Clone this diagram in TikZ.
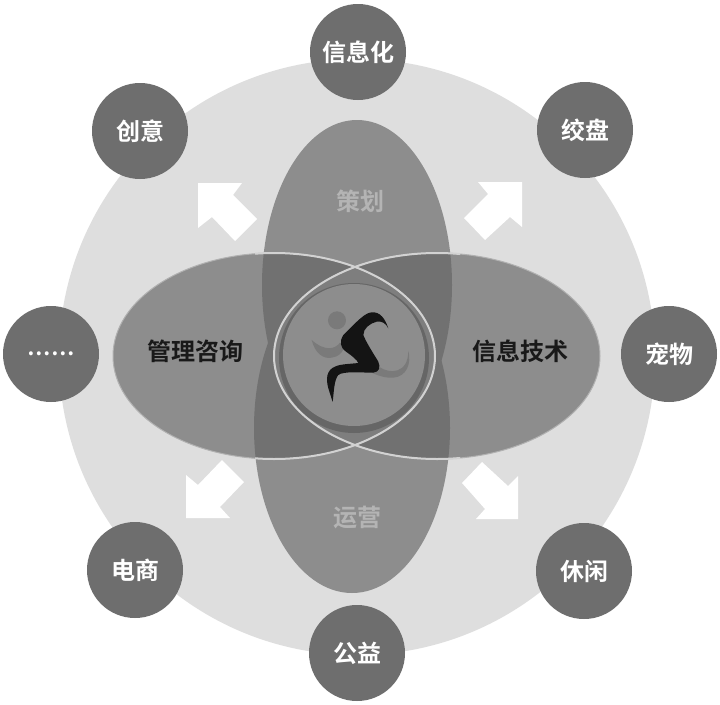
\documentclass[tikz,border=0pt]{standalone}
\usepackage{fontspec}
\setmainfont{Noto Sans CJK SC}[BoldFont={Noto Sans CJK SC Bold}]
\definecolor{bigc}{HTML}{DEDEDE}
\definecolor{satc}{HTML}{6E6E6E}
\definecolor{petal}{HTML}{8D8D8D}
\definecolor{overlapc}{HTML}{717171}
\definecolor{lensc}{HTML}{7E7E7E}
\definecolor{edgec}{HTML}{D2D2D2}
\definecolor{softtxt}{HTML}{B4B4B4}
\definecolor{crescent}{HTML}{7A7A7A}
\tikzset{
  sat/.style={circle,fill=satc,minimum size=96pt,inner sep=0pt,text=white,font=\fontsize{24}{24}\selectfont\bfseries},
  softlabel/.style={text=softtxt,inner sep=0pt,font=\fontsize{24}{24}\selectfont\bfseries},
  darklabel/.style={text=black!90,inner sep=0pt,font=\fontsize{24}{24}\selectfont\bfseries},
  arrowshape/.style={fill=white,draw=none},
  EH/.style={line width=2pt,draw=edgec},
  EHfaint/.style={line width=1pt,draw=petal!55!bigc}
}
\def\ET{(357,285) ellipse [x radius=95,y radius=165]}
\def\EB{(352,428) ellipse [x radius=98,y radius=165]}
\def\EL{(274,356) ellipse [x radius=161,y radius=103]}
\def\ER{(437,356) ellipse [x radius=163,y radius=103]}
\begin{document}
\begin{tikzpicture}[x=1pt,y=-1pt]
\useasboundingbox (0,0) rectangle (720,704);
\fill[white] (0,0) rectangle (720,704);
\fill[bigc] (357,357) circle [radius=298];
% petals
\fill[petal] \ET; \fill[petal] \EB; \fill[petal] \EL; \fill[petal] \ER;
% overlaps
\begin{scope}\clip \ET; \fill[overlapc] \EL; \fill[overlapc] \ER; \end{scope}
\begin{scope}\clip \EB; \fill[overlapc] \EL; \fill[overlapc] \ER; \end{scope}
\begin{scope}\clip \EL; \fill[lensc] \ER; \end{scope}
% centre disc
\fill[black!60] (354,358) circle [radius=75];
\fill[petal] (354,355) circle [radius=71];
% horizontal ellipse outlines: faint at the outer ends, bright over the vertical petals
\draw[EHfaint] \EL; \draw[EHfaint] \ER;
\begin{scope}\clip (255,240) rectangle (460,470); \draw[EH] \EL; \draw[EH] \ER; \end{scope}
% white arrows
\fill[arrowshape] (198,183)--(242,183)--(233,195)--(257,219)--(235,241)--(212,217)--(198,228)--cycle;
\fill[arrowshape] (522,182)--(478,182)--(488,194)--(464,218)--(485,240)--(510,217)--(522,227)--cycle;
\fill[arrowshape] (186,518)--(186,475)--(198,485)--(222,460)--(244,482)--(220,507)--(230,518)--cycle;
\fill[arrowshape] (518,519)--(476,519)--(485,509)--(462,483)--(482,462)--(508,486)--(518,476)--cycle;
% runner
\begin{scope}[shift={(260,260)},x=0.3333pt,y=-0.3333pt]
\fill[crescent] (231,181) circle [radius=27];
\fill[crescent] (155,240) .. controls (165,280) and (190,298) .. (215,293) .. controls (235,290) and (245,280) .. (250,268) -- (240,248) .. controls (225,268) and (195,275) .. (155,240) -- cycle;
\fill[crescent] (445,272) .. controls (455,310) and (440,350) .. (400,353) .. controls (375,355) and (350,345) .. (335,338) -- (360,322) .. controls (385,340) and (445,345) .. (445,272) -- cycle;
\fill[black!92] (385,205) .. controls (375,175) and (360,155) .. (335,157) .. controls (315,158) and (290,185) .. (250,225)
 .. controls (238,245) and (240,262) .. (258,275) .. controls (275,287) and (290,298) .. (295,309)
 .. controls (270,312) and (240,312) .. (225,320) .. controls (200,330) and (197,355) .. (205,385) -- (218,426)
 .. controls (222,395) and (222,360) .. (235,345) .. controls (250,333) and (300,338) .. (340,338)
 .. controls (358,336) and (362,322) .. (355,305) .. controls (340,280) and (320,250) .. (310,225)
 .. controls (310,205) and (330,190) .. (350,185) .. controls (365,182) and (378,190) .. (385,205) -- cycle;
\end{scope}
% satellites
\node[sat] (xinxihua) at (358,52) {信息化};
\node[sat] (jiaopan) at (585,130) {绞盘};
\node[sat] (chongwu) at (669,354) {宠物};
\node[sat] (xiuxian) at (584,571) {休闲};
\node[sat] (gongyi) at (357,653) {公益};
\node[sat] (dianshang) at (135,570) {电商};
\node[sat,font=\fontsize{21}{21}\selectfont\bfseries] (dots) at (51,354) {……};
\node[sat] (chuangyi) at (140,131) {创意};
% labels
\node[softlabel] (cehua) at (360,201) {策划};
\node[softlabel] (yunying) at (357,518) {运营};
\node[darklabel] (guanli) at (195,351) {管理咨询};
\node[darklabel] (xinxi) at (520,351) {信息技术};
\end{tikzpicture}
\end{document}
